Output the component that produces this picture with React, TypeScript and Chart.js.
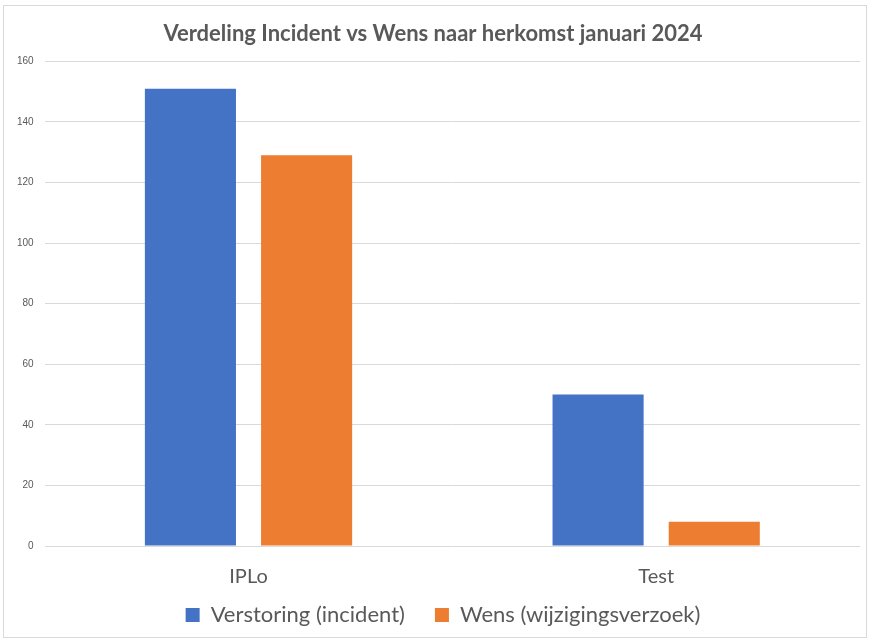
import React, { useEffect, useRef } from "react";
import { Chart, registerables } from "chart.js";

Chart.register(...registerables);

const categories = ["IPLo", "Test"];
const seriesNames = ["Verstoring (incident)", "Wens (wijzigingsverzoek)"];
const verstoring = [151, 50];
const wens = [129, 8];
const yTicks = [0, 20, 40, 60, 80, 100, 120, 140, 160];
const titleText = "Verdeling Incident vs Wens naar herkomst januari 2024";

const FONT = "Lato, 'Open Sans', sans-serif";

export default function App() {
  const ref = useRef<HTMLCanvasElement>(null);
  useEffect(() => {
    document.body.style.margin = "0";
    const ctx = ref.current!;
    const legendTweak = {
      id: "legendTweak",
      afterInit(chart: any) {
        const lg = chart.legend;
        if (!lg || lg.__patched) return;
        lg.__patched = true;
        const origFit = lg.fit.bind(lg);
        lg.fit = function () {
          origFit();
          this.height = 33;
        };
        const origDraw = lg.draw.bind(lg);
        lg.draw = function () {
          const t = this.top, l = this.left, r = this.right;
          this.top = t - 34;
          this.left = l + 10;
          this.right = r + 10;
          origDraw();
          this.top = t;
          this.left = l;
          this.right = r;
        };
      },
    };
    const chart = new Chart(ctx, {
      type: "bar",
      data: {
        labels: categories,
        datasets: [
          {
            label: seriesNames[0],
            data: verstoring,
            backgroundColor: "#4472C4",
            categoryPercentage: 0.57,
            barPercentage: 0.784,
          },
          {
            label: seriesNames[1],
            data: wens,
            backgroundColor: "#ED7D31",
            categoryPercentage: 0.57,
            barPercentage: 0.784,
          },
        ],
      },
      options: {
        animation: false,
        responsive: false,
        maintainAspectRatio: false,
        layout: { padding: { left: 6, right: 12, top: 12, bottom: 0 } },
        plugins: {
          title: {
            display: true,
            text: titleText,
            color: "#595959",
            font: { family: FONT, size: 22, weight: "bold" },
            padding: { top: 9, bottom: 14 },
          },
          legend: {
            position: "bottom",
            labels: {
              color: "#595959",
              font: { family: FONT, size: 22 },
              boxWidth: 14,
              boxHeight: 14,
              padding: 30,
            },
          },
          tooltip: { enabled: false },
        },
        scales: {
          x: {
            grid: { display: false, drawTicks: false },
            border: { display: false },
            ticks: {
              color: "#595959",
              font: { family: FONT, size: 20 },
              padding: 19,
            },
          },
          y: {
            min: 0,
            max: 160,
            afterBuildTicks: (axis: any) => {
              axis.ticks = yTicks.map((v) => ({ value: v }));
            },
            grid: { color: "#D9D9D9", drawTicks: false, lineWidth: 1 },
            border: { display: false },
            ticks: {
              color: "#595959",
              font: { family: "'Liberation Sans', Arial, sans-serif", size: 10 },
              padding: 11,
            },
          },
        },
      },
      plugins: [legendTweak],
    });
    return () => chart.destroy();
  }, []);
  return (
    <div style={{ position: "relative", width: 872, height: 641, background: "#fff" }}>
      <div
        style={{
          position: "absolute",
          left: 3,
          top: 5,
          width: 864,
          height: 633,
          border: "1px solid #D9D9D9",
          boxSizing: "border-box",
        }}
      />
      <canvas ref={ref} width={872} height={641} style={{ position: "absolute", left: 0, top: 0 }} />
    </div>
  );
}
